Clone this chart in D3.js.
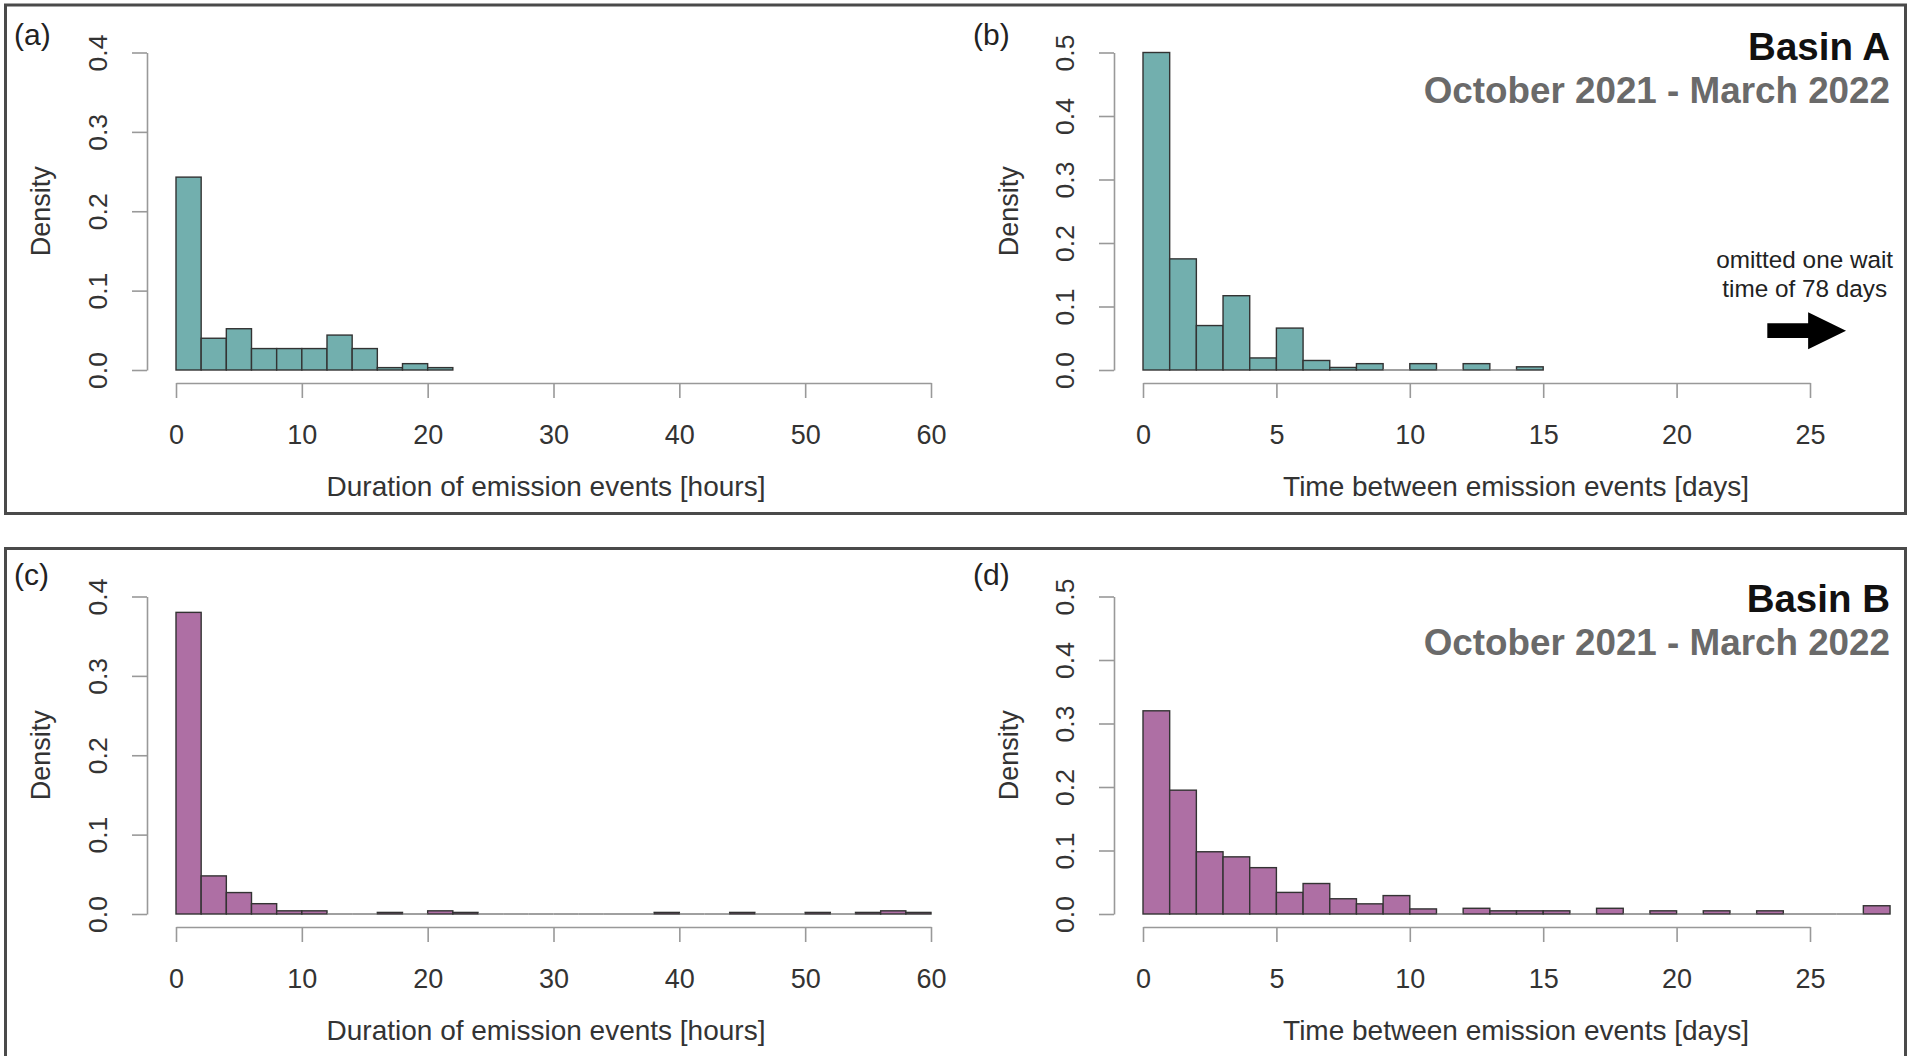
<!DOCTYPE html>
<html><head><meta charset="utf-8">
<script src="https://cdn.jsdelivr.net/npm/d3@7"></script>
<style>
html,body{margin:0;padding:0;background:#fff;}
svg{display:block;font-family:"Liberation Sans",Arial,Helvetica,sans-serif;}
</style></head><body>
<svg id="chart" width="1908" height="1056"></svg>
<script>
// ---------------- data ----------------
const panelLabels = ["(a)", "(b)", "(c)", "(d)"];
const durationBinWidth = 2;   // hours
const waitBinWidth = 1;       // days
// densities per bin
const durationA = [0.243, 0.040, 0.052, 0.027, 0.027, 0.027, 0.044, 0.027, 0.003, 0.008, 0.003];
const waitA = [0.500, 0.175, 0.070, 0.117, 0.019, 0.066, 0.015, 0.004, 0.010, 0, 0.010, 0, 0.010, 0, 0.005];
const durationB = [0.380, 0.048, 0.027, 0.013, 0.004, 0.004, 0, 0, 0.002, 0, 0.004, 0.002,
                   0, 0, 0, 0, 0, 0, 0, 0.002, 0, 0, 0.002, 0, 0, 0.002, 0, 0.002, 0.004, 0.002];
const waitB = [0.320, 0.195, 0.098, 0.090, 0.073, 0.034, 0.048, 0.024, 0.016, 0.029, 0.008, 0,
               0.009, 0.005, 0.005, 0.005, 0, 0.009, 0, 0.005, 0, 0.005, 0, 0.005, 0, 0, 0, 0.013];
const durationTicks = [0, 10, 20, 30, 40, 50, 60];
const waitTicks = [0, 5, 10, 15, 20, 25];
const durationYTicks = [0, 0.1, 0.2, 0.3, 0.4];
const waitYTicks = [0, 0.1, 0.2, 0.3, 0.4, 0.5];
const basinTitles = ["Basin A", "Basin B"];
const periodLabel = "October 2021 - March 2022";
const durationLabel = "Duration of emission events [hours]";
const waitLabel = "Time between emission events [days]";
const yLabel = "Density";
const noteLines = ["omitted one wait", "time of 78 days"];
const notePos = {x0: 23.4, xHead: 24.93, x1: 26.35, y: 0.062, textX: 24.8};

// ---------------- layout ----------------
const svg = d3.select("#chart");
const rowShift = 544;
const colors = {A: "#72AFAE", B: "#AE6FA4"};

// panel frames
svg.append("rect").attr("x", 5.5).attr("y", 5).attr("width", 1900).attr("height", 508.5)
  .attr("fill", "none").attr("stroke", "#4a4a4a").attr("stroke-width", 3);
svg.append("rect").attr("x", 5.5).attr("y", 548.5).attr("width", 1900).attr("height", 520)
  .attr("fill", "none").attr("stroke", "#4a4a4a").attr("stroke-width", 3);

function drawPanel(opts) {
  const {values, binWidth, xDomain, xRange, yMax, yTicks, xTicks, fill, dy,
         yAxisX, xAxisY, label, labelX, xLabel, xLabelCenter, densityX} = opts;
  const g = svg.append("g").attr("transform", `translate(0,${dy})`);
  const x = d3.scaleLinear().domain(xDomain).range(xRange);
  const y = d3.scaleLinear().domain([0, yMax]).range([370, 52.5]);

  // bars
  const bins = values.map((v, i) => ({x0: i * binWidth, x1: (i + 1) * binWidth, v}));
  g.selectAll("rect.bar").data(bins.filter(b => b.v > 0)).join("rect")
    .attr("class", "bar")
    .attr("x", d => x(d.x0)).attr("width", d => x(d.x1) - x(d.x0))
    .attr("y", d => y(d.v)).attr("height", d => y(0) - y(d.v))
    .attr("fill", fill).attr("stroke", "#333").attr("stroke-width", 1.4);
  g.selectAll("line.zero").data(bins.filter(b => b.v === 0)).join("line")
    .attr("class", "zero")
    .attr("x1", d => x(d.x0)).attr("x2", d => x(d.x1))
    .attr("y1", y(0)).attr("y2", y(0))
    .attr("stroke", "#777").attr("stroke-width", 1.4);

  // y axis
  const ya = g.append("g").attr("transform", `translate(${yAxisX},0)`)
    .call(d3.axisLeft(y).tickValues(yTicks).tickSize(15).tickSizeOuter(0).tickFormat(d3.format(".1f")));
  ya.select(".domain").attr("stroke", "#999").attr("stroke-width", 1.6);
  ya.selectAll(".tick line").attr("stroke", "#999").attr("stroke-width", 1.6);
  ya.selectAll(".tick text").attr("x", 0).attr("dy", 0).attr("text-anchor", "middle")
    .attr("transform", "translate(-40,0) rotate(-90)")
    .attr("font-size", 26.5).attr("fill", "#333").attr("font-family", "Liberation Sans, Arial, sans-serif");

  // x axis (line only spans tick range)
  const xAxisScale = x.copy().domain([xTicks[0], xTicks[xTicks.length - 1]])
    .range([x(xTicks[0]), x(xTicks[xTicks.length - 1])]);
  const xa = g.append("g").attr("transform", `translate(0,${xAxisY})`)
    .call(d3.axisBottom(xAxisScale).tickValues(xTicks).tickSize(15).tickSizeOuter(0).tickFormat(d3.format("d")));
  xa.select(".domain").attr("stroke", "#999").attr("stroke-width", 1.6);
  xa.selectAll(".tick line").attr("stroke", "#999").attr("stroke-width", 1.6);
  xa.selectAll(".tick text").attr("y", 61).attr("dy", 0)
    .attr("font-size", 27).attr("fill", "#333").attr("font-family", "Liberation Sans, Arial, sans-serif");

  // axis titles
  g.append("text").attr("x", xLabelCenter).attr("y", 496).attr("text-anchor", "middle")
    .attr("font-size", 28).attr("fill", "#333").text(xLabel);
  g.append("text").attr("transform", `translate(${densityX},${(y(0) + y(yMax)) / 2}) rotate(-90)`)
    .attr("text-anchor", "middle").attr("font-size", 27).attr("fill", "#333").text(yLabel);

  // panel label
  svg.append("text").attr("x", labelX).attr("y", 45 + dy - (dy ? 4 : 0))
    .attr("font-size", 30).attr("fill", "#222").text(label);
  return {x, y, g};
}

const leftCommon = {binWidth: durationBinWidth, xDomain: [0, 60], xRange: [176, 931],
  yMax: 0.4, yTicks: durationYTicks, xTicks: durationTicks, yAxisX: 147, xAxisY: 383,
  labelX: 14, xLabel: durationLabel, xLabelCenter: 546, densityX: 50};
const rightCommon = {binWidth: waitBinWidth, xDomain: [0, 25], xRange: [1143, 1810],
  yMax: 0.5, yTicks: waitYTicks, xTicks: waitTicks, yAxisX: 1114, xAxisY: 383,
  labelX: 973, xLabel: waitLabel, xLabelCenter: 1516, densityX: 1018};

drawPanel({...leftCommon, values: durationA, fill: colors.A, dy: 0, label: panelLabels[0]});
const pb = drawPanel({...rightCommon, values: waitA, fill: colors.A, dy: 0, label: panelLabels[1]});
drawPanel({...leftCommon, values: durationB, fill: colors.B, dy: rowShift, label: panelLabels[2]});
drawPanel({...rightCommon, values: waitB, fill: colors.B, dy: rowShift, label: panelLabels[3]});

// titles
[[basinTitles[0], 60, 103], [basinTitles[1], 612, 655]].forEach(([t, y1, y2]) => {
  svg.append("text").attr("x", 1890).attr("y", y1).attr("text-anchor", "end")
    .attr("font-size", 38.5).attr("font-weight", "bold").attr("fill", "#111").text(t);
  svg.append("text").attr("x", 1890).attr("y", y2).attr("text-anchor", "end")
    .attr("font-size", 36.8).attr("font-weight", "bold").attr("fill", "#6a6a6a").text(periodLabel);
});

// annotation in panel (b)
noteLines.forEach((t, i) => {
  pb.g.append("text").attr("x", pb.x(notePos.textX)).attr("y", 268 + i * 28.5)
    .attr("text-anchor", "middle").attr("font-size", 24.3).attr("fill", "#222").text(t);
});
const ay = pb.y(notePos.y);
const ax0 = pb.x(notePos.x0), axh = pb.x(notePos.xHead), ax1 = pb.x(notePos.x1);
pb.g.append("path")
  .attr("d", `M${ax0},${ay - 7.3}L${axh},${ay - 7.3}L${axh},${ay - 18.5}L${ax1},${ay}L${axh},${ay + 18.5}L${axh},${ay + 7.3}L${ax0},${ay + 7.3}Z`)
  .attr("fill", "#000");
</script>
</body></html>
